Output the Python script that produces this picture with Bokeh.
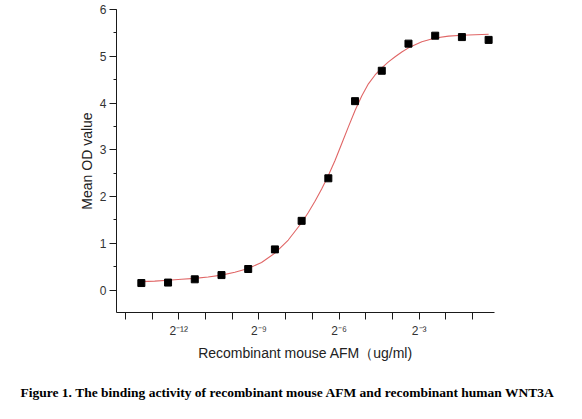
from bokeh.plotting import figure
from bokeh.models import FixedTicker, SingleIntervalTicker, Title, Range1d
from bokeh.embed import file_html
from bokeh.resources import INLINE

# log2 of concentration (ug/ml) and mean OD readings
log2_conc = [-13.4, -12.4, -11.4, -10.4, -9.4, -8.4, -7.4,
             -6.4, -5.4, -4.4, -3.4, -2.4, -1.4, -0.4]
mean_od = [0.15, 0.16, 0.23, 0.32, 0.45, 0.87, 1.48,
           2.39, 4.04, 4.69, 5.27, 5.44, 5.41, 5.35]

# fitted curve
fit_x = [-13.4, -12.9, -12.4, -11.9, -11.4, -10.9, -10.4, -9.9, -9.4, -8.9,
         -8.4, -7.9, -7.4, -7.15, -6.9, -6.65, -6.4, -6.15, -5.9, -5.65,
         -5.4, -5.15, -4.9, -4.65, -4.4, -4.15, -3.9, -3.65, -3.4, -2.9,
         -2.4, -1.9, -1.4, -0.9, -0.4]
fit_y = [0.18, 0.19, 0.21, 0.23, 0.25, 0.28, 0.32, 0.38, 0.46, 0.59,
         0.79, 1.07, 1.44, 1.66, 1.90, 2.16, 2.45, 2.77, 3.13, 3.49,
         3.84, 4.15, 4.41, 4.60, 4.75, 4.88, 4.99, 5.09, 5.18, 5.31,
         5.39, 5.43, 5.45, 5.46, 5.47]

x_ticks = [-14, -13, -12, -11, -10, -9, -8, -7, -6, -5, -4, -3, -2, -1]
x_tick_labels = {-12: "2⁻¹²", -9: "2⁻⁹", -6: "2⁻⁶", -3: "2⁻³"}

caption = "Figure 1. The binding activity of recombinant mouse AFM and recombinant human WNT3A"

font = "Liberation Sans"

p = figure(width=576, height=418, output_backend="svg", toolbar_location=None,
           x_range=Range1d(-14.33, -0.18), y_range=Range1d(-0.48, 6),
           min_border_left=116, min_border_right=82,
           min_border_top=9, min_border_bottom=103)
p.outline_line_color = None
p.grid.visible = False
p.background_fill_color = "white"

p.line(fit_x, fit_y, line_color="#e06666", line_width=1.1)
p.scatter(log2_conc, mean_od, marker="square", size=7,
          fill_color="black", line_color="black")

xa = p.xaxis[0]
xa.ticker = FixedTicker(ticks=x_ticks, minor_ticks=[])
xa.major_label_overrides = {t: x_tick_labels.get(t, "") for t in x_ticks}
xa.axis_label = "Recombinant mouse AFM（ug/ml)"

ya = p.yaxis[0]
ya.ticker = SingleIntervalTicker(interval=1, num_minor_ticks=2)
ya.axis_label = "Mean OD value"

for ax in (xa, ya):
    ax.axis_line_color = "#1a1a1a"
    ax.major_tick_line_color = "#1a1a1a"
    ax.minor_tick_line_color = "#1a1a1a"
    ax.major_tick_out = 7
    ax.major_tick_in = 0
    ax.minor_tick_out = 3
    ax.minor_tick_in = 0
    ax.major_label_text_font = font
    ax.major_label_text_font_size = "12px"
    ax.major_label_text_color = "#333333"
    ax.axis_label_text_font = font
    ax.axis_label_text_font_size = "14px"
    ax.axis_label_text_font_style = "normal"
    ax.axis_label_text_color = "#222222"

xa.major_label_standoff = 4
xa.axis_label_standoff = 4
ya.major_label_standoff = 3
ya.axis_label_standoff = 2

p.add_layout(Title(text=caption, align="left", offset=-96, standoff=38,
                   text_font="Liberation Serif", text_font_style="bold",
                   text_font_size="13.5px", text_color="black"), "below")

open("out.html", "w").write(file_html(p, INLINE))
